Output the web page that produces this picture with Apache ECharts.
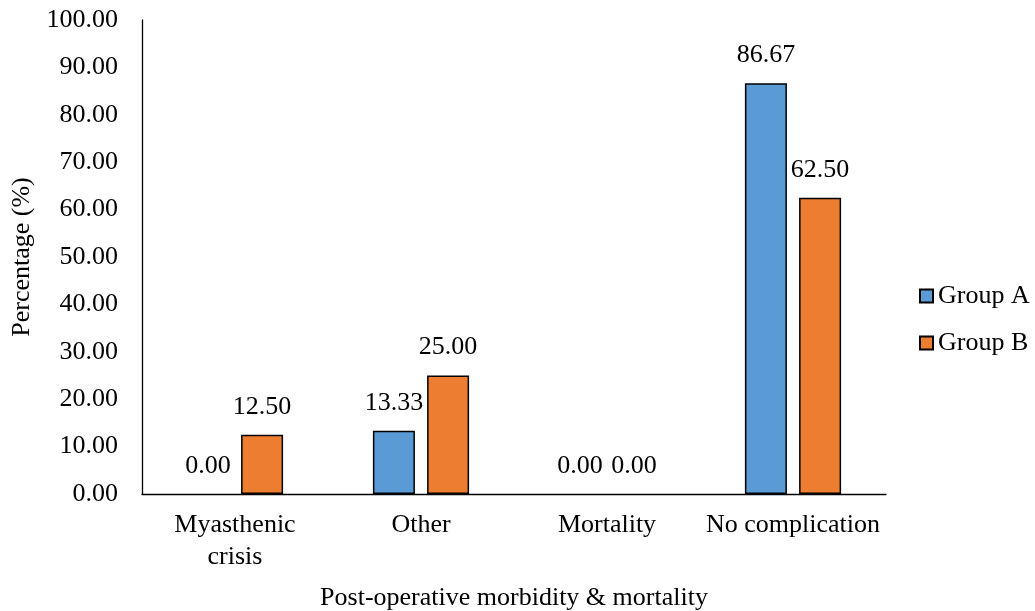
<!DOCTYPE html>
<html>
<head>
<meta charset="utf-8">
<script src="https://cdn.jsdelivr.net/npm/echarts@6/dist/echarts.min.js"></script>
<style>html,body{margin:0;padding:0;background:#fff;}#c{width:1035px;height:611px;}</style>
</head>
<body>
<div id="c"></div>
<script>
const categories = ['Myasthenic\ncrisis', 'Other', 'Mortality', 'No complication'];
const groupA = [0.00, 13.33, 0.00, 86.67];
const groupB = [12.50, 25.00, 0.00, 62.50];
const seriesNames = ['Group A', 'Group B'];
const colors = ['#5B9BD5', '#ED7D31'];

const font = '"Liberation Serif", "Times New Roman", serif';
const FS = 26;
const chart = echarts.init(document.getElementById('c'));
const labelCfg = {
  show: true, position: 'top', distance: 15,
  fontFamily: font, fontSize: FS, color: '#000',
  formatter: p => p.value.toFixed(2)
};
const toData = arr => arr.map(v => v === 0 ? { value: v, itemStyle: { borderWidth: 0 } } : v);
chart.setOption({
  animation: false,
  textStyle: { fontFamily: font },
  grid: { left: 142, right: 149, top: 20, bottom: 117, containLabel: false, outerBoundsMode: 'none' },
  legend: {
    orient: 'vertical', left: 919, top: 283, padding: 0,
    itemWidth: 13, itemHeight: 13, itemGap: 21,
    textStyle: { fontFamily: font, fontSize: FS, color: '#000' },
    data: seriesNames.map(n => ({ name: n, icon: 'rect' }))
  },
  xAxis: {
    type: 'category', data: categories,
    name: 'Post-operative morbidity & mortality',
    nameLocation: 'middle', nameGap: 91,
    nameTextStyle: { fontFamily: font, fontSize: FS, color: '#000' },
    axisLine: { lineStyle: { color: '#000', width: 1.3 } },
    axisTick: { show: false },
    axisLabel: { interval: 0, fontFamily: font, fontSize: FS, color: '#000', lineHeight: 32, margin: 15 }
  },
  yAxis: {
    type: 'value', min: 0, max: 100, interval: 10,
    name: 'Percentage (%)', nameLocation: 'middle', nameGap: 106,
    nameTextStyle: { fontFamily: font, fontSize: FS, color: '#000' },
    axisLine: { show: true, lineStyle: { color: '#000', width: 1.3 } },
    axisTick: { show: false },
    splitLine: { show: false },
    axisLabel: { fontFamily: font, fontSize: FS, color: '#000', margin: 24, formatter: v => v.toFixed(2) }
  },
  series: [
    { name: seriesNames[0], type: 'bar', data: toData(groupA), barWidth: 42, barGap: '29%',
      itemStyle: { color: colors[0], borderColor: '#000', borderWidth: 1.5 }, label: labelCfg },
    { name: seriesNames[1], type: 'bar', data: toData(groupB), barWidth: 42,
      itemStyle: { color: colors[1], borderColor: '#000', borderWidth: 1.5 }, label: labelCfg }
  ]
});
</script>
</body>
</html>
